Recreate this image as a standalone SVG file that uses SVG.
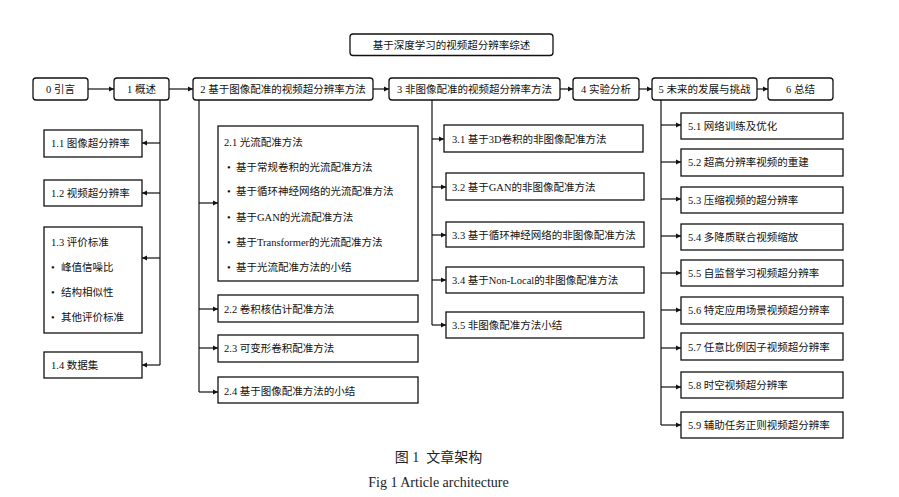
<svg xmlns="http://www.w3.org/2000/svg" width="899" height="497" viewBox="0 0 899 497">
<defs>
<style>
.t{font-family:"Liberation Serif","Noto Sans CJK SC",serif;font-size:10.5px;fill:#111;dominant-baseline:central}
.c{text-anchor:middle}
.rb{fill:#fff;stroke:#111;stroke-width:1.3}
.sb{fill:#fff;stroke:#111;stroke-width:1.3}
.ln{fill:none;stroke:#111;stroke-width:1.2}
.cap{font-family:"Liberation Serif","Noto Sans CJK SC",serif;font-size:14px;fill:#222;text-anchor:middle}
</style>
<marker id="ah" markerWidth="6" markerHeight="6" refX="5" refY="3" orient="auto" markerUnits="userSpaceOnUse">
<path d="M0,0.6 L5,3 L0,5.4 Z" fill="#111"/>
</marker>
</defs>
<rect width="899" height="497" fill="#fff"/>

<g id="connectors">
<path class="ln" marker-end="url(#ah)" d="M88,89 H114"/>
<path class="ln" marker-end="url(#ah)" d="M169,89 H193"/>
<path class="ln" marker-end="url(#ah)" d="M373,89 H389"/>
<path class="ln" marker-end="url(#ah)" d="M560,89 H573"/>
<path class="ln" marker-end="url(#ah)" d="M639,89 H652"/>
<path class="ln" marker-end="url(#ah)" d="M757,89 H768"/>

<path class="ln" d="M160,100 V365"/>
<path class="ln" marker-end="url(#ah)" d="M160,143 H142"/>
<path class="ln" marker-end="url(#ah)" d="M160,193 H142"/>
<path class="ln" marker-end="url(#ah)" d="M160,258 H142"/>
<path class="ln" marker-end="url(#ah)" d="M160,365 H142"/>

<path class="ln" d="M199,100 V392"/>
<path class="ln" marker-end="url(#ah)" d="M199,203 H218"/>
<path class="ln" marker-end="url(#ah)" d="M199,309 H218"/>
<path class="ln" marker-end="url(#ah)" d="M199,348 H218"/>
<path class="ln" marker-end="url(#ah)" d="M199,392 H218"/>

<path class="ln" d="M432,100 V325"/>
<path class="ln" marker-end="url(#ah)" d="M432,139 H444"/>
<path class="ln" marker-end="url(#ah)" d="M432,187 H446"/>
<path class="ln" marker-end="url(#ah)" d="M432,235 H446"/>
<path class="ln" marker-end="url(#ah)" d="M432,280 H446"/>
<path class="ln" marker-end="url(#ah)" d="M432,325 H446"/>

<path class="ln" d="M661,100 V425"/>
<path class="ln" marker-end="url(#ah)" d="M661,125 H681"/>
<path class="ln" marker-end="url(#ah)" d="M661,162 H681"/>
<path class="ln" marker-end="url(#ah)" d="M661,199 H681"/>
<path class="ln" marker-end="url(#ah)" d="M661,236 H681"/>
<path class="ln" marker-end="url(#ah)" d="M661,273 H681"/>
<path class="ln" marker-end="url(#ah)" d="M661,310 H681"/>
<path class="ln" marker-end="url(#ah)" d="M661,348 H681"/>
<path class="ln" marker-end="url(#ah)" d="M661,387 H681"/>
<path class="ln" marker-end="url(#ah)" d="M661,425 H681"/>
</g>

<g id="title"><rect class="rb" x="350" y="34" width="203" height="21.5" rx="3"/><text class="t c" x="451.5" y="45">基于深度学习的视频超分辨率综述</text></g>

<g id="n0"><rect class="rb" x="33" y="78" width="55" height="22" rx="3"/><text class="t c" x="60.5" y="89">0 引言</text></g>
<g id="n1"><rect class="rb" x="114" y="78" width="55" height="22" rx="3"/><text class="t c" x="141.5" y="89">1 概述</text></g>
<g id="n2"><rect class="rb" x="193" y="78" width="180" height="22" rx="3"/><text class="t c" x="283" y="89">2 基于图像配准的视频超分辨率方法</text></g>
<g id="n3"><rect class="rb" x="389" y="78" width="171" height="22" rx="3"/><text class="t c" x="474.5" y="89">3 非图像配准的视频超分辨率方法</text></g>
<g id="n4"><rect class="rb" x="573" y="78" width="66" height="22" rx="3"/><text class="t c" x="606" y="89">4 实验分析</text></g>
<g id="n5"><rect class="rb" x="652" y="78" width="105" height="22" rx="3"/><text class="t c" x="704.5" y="89">5 未来的发展与挑战</text></g>
<g id="n6"><rect class="rb" x="768" y="78" width="65" height="22" rx="3"/><text class="t c" x="800.5" y="89">6 总结</text></g>

<g id="n1_1"><rect class="sb" x="44" y="130" width="98" height="27"/><text class="t" x="51" y="143.5">1.1 图像超分辨率</text></g>
<g id="n1_2"><rect class="sb" x="44" y="180" width="98" height="26"/><text class="t" x="51" y="193">1.2 视频超分辨率</text></g>
<g id="n1_3"><rect class="sb" x="44" y="227" width="98" height="106"/>
<text class="t" x="51" y="242">1.3 评价标准</text>
<text class="t" x="51" y="267">•</text><text class="t" x="61" y="267">峰值信噪比</text>
<text class="t" x="51" y="292">•</text><text class="t" x="61" y="292">结构相似性</text>
<text class="t" x="51" y="317">•</text><text class="t" x="61" y="317">其他评价标准</text></g>
<g id="n1_4"><rect class="sb" x="44" y="352" width="98" height="26"/><text class="t" x="51" y="365">1.4 数据集</text></g>

<g id="n2_1"><rect class="sb" x="218" y="126" width="200" height="155"/>
<text class="t" x="224" y="142">2.1 光流配准方法</text>
<text class="t" x="227" y="167">•</text><text class="t" x="236" y="167">基于常规卷积的光流配准方法</text>
<text class="t" x="227" y="191">•</text><text class="t" x="236" y="191">基于循环神经网络的光流配准方法</text>
<text class="t" x="227" y="217">•</text><text class="t" x="236" y="217">基于GAN的光流配准方法</text>
<text class="t" x="227" y="242">•</text><text class="t" x="236" y="242">基于Transformer的光流配准方法</text>
<text class="t" x="227" y="267">•</text><text class="t" x="236" y="267">基于光流配准方法的小结</text></g>
<g id="n2_2"><rect class="sb" x="218" y="295" width="200" height="27"/><text class="t" x="224" y="309">2.2 卷积核估计配准方法</text></g>
<g id="n2_3"><rect class="sb" x="218" y="335" width="200" height="27"/><text class="t" x="224" y="348">2.3 可变形卷积配准方法</text></g>
<g id="n2_4"><rect class="sb" x="218" y="377" width="200" height="26"/><text class="t" x="224" y="391">2.4 基于图像配准方法的小结</text></g>

<g id="n3_1"><rect class="sb" x="444" y="125" width="199" height="27"/><text class="t" x="452" y="139">3.1 基于3D卷积的非图像配准方法</text></g>
<g id="n3_2"><rect class="sb" x="446" y="173" width="198" height="27"/><text class="t" x="452" y="187">3.2 基于GAN的非图像配准方法</text></g>
<g id="n3_3"><rect class="sb" x="446" y="222" width="198" height="25"/><text class="t" x="452" y="235">3.3 基于循环神经网络的非图像配准方法</text></g>
<g id="n3_4"><rect class="sb" x="446" y="267" width="198" height="26"/><text class="t" x="452" y="280">3.4 基于Non-Local的非图像配准方法</text></g>
<g id="n3_5"><rect class="sb" x="446" y="312" width="198" height="26"/><text class="t" x="452" y="325">3.5 非图像配准方法小结</text></g>

<g id="n5_1"><rect class="sb" x="681" y="113" width="162" height="26"/><text class="t" x="688" y="126">5.1 网络训练及优化</text></g>
<g id="n5_2"><rect class="sb" x="681" y="149" width="162" height="27"/><text class="t" x="688" y="162">5.2 超高分辨率视频的重建</text></g>
<g id="n5_3"><rect class="sb" x="681" y="187" width="162" height="26"/><text class="t" x="688" y="200">5.3 压缩视频的超分辨率</text></g>
<g id="n5_4"><rect class="sb" x="681" y="224" width="162" height="26"/><text class="t" x="688" y="237">5.4 多降质联合视频缩放</text></g>
<g id="n5_5"><rect class="sb" x="681" y="260" width="162" height="26"/><text class="t" x="688" y="273">5.5 自监督学习视频超分辨率</text></g>
<g id="n5_6"><rect class="sb" x="681" y="297" width="162" height="27"/><text class="t" x="688" y="310">5.6 特定应用场景视频超分辨率</text></g>
<g id="n5_7"><rect class="sb" x="681" y="333" width="162" height="27"/><text class="t" x="688" y="347">5.7 任意比例因子视频超分辨率</text></g>
<g id="n5_8"><rect class="sb" x="681" y="372" width="162" height="26"/><text class="t" x="688" y="385">5.8 时空视频超分辨率</text></g>
<g id="n5_9"><rect class="sb" x="681" y="412" width="162" height="26"/><text class="t" x="688" y="425">5.9 辅助任务正则视频超分辨率</text></g>

<g id="caption">
<text class="cap" x="438.5" y="462">图 1&#160;&#160;文章架构</text>
<text class="cap" x="438.5" y="487">Fig 1 Article architecture</text>
</g>
</svg>
